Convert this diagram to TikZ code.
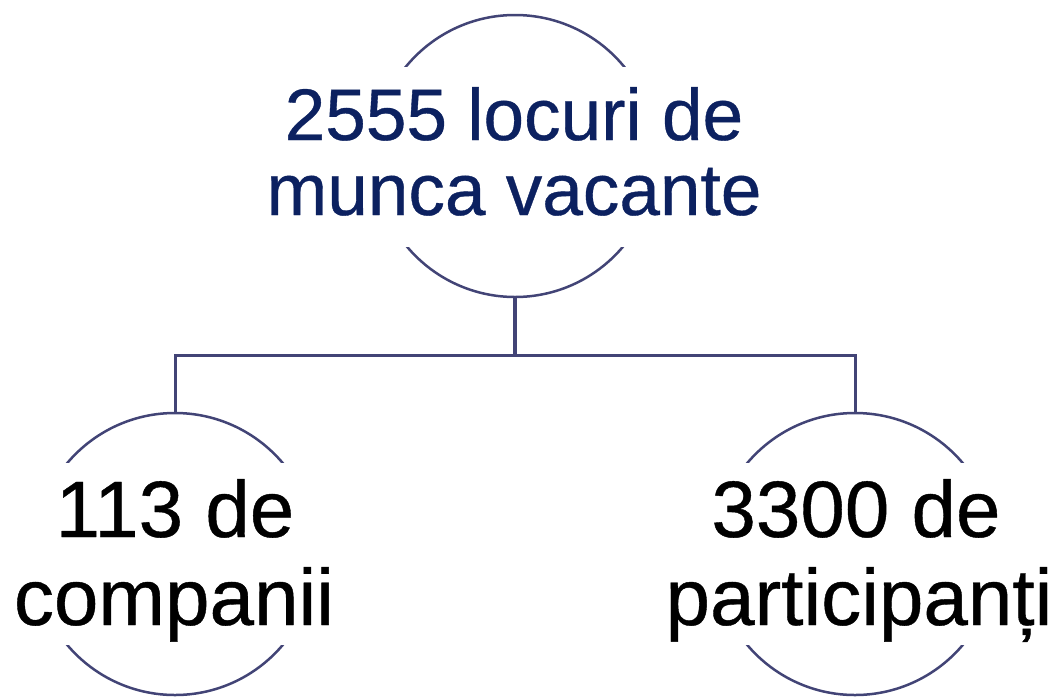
\documentclass[tikz,border=0pt]{standalone}
\usepackage{fontspec}
\setmainfont{Liberation Sans}[FakeBold=0.5]
\definecolor{linec}{RGB}{66,68,118}
\definecolor{navy}{RGB}{12,33,96}
\tikzset{
  ring/.style={circle, draw=linec, line width=2.5pt, minimum size=282pt, inner sep=0pt},
  band/.style={rectangle, fill=white, inner sep=0pt, minimum width=310pt},
  conn/.style={draw=linec, line width=3pt},
  toptxt/.style={anchor=base, inner sep=0pt, text=navy, font=\fontsize{73}{75}\selectfont},
  bottxt/.style={anchor=base, inner sep=0pt, text=black, font=\fontsize{80}{82}\selectfont}
}
\begin{document}
\begin{tikzpicture}[x=1pt,y=-1pt]
\useasboundingbox (0,0) rectangle (1054,697);
% circles
\node[ring] (top) at (515,156) {};
\node[ring] (left) at (175,554) {};
\node[ring] (right) at (855,554) {};
% connectors
\coordinate (bus) at (515,355);
\draw[conn, line width=4pt] (top.south) -- (bus);
\draw[conn] (left.north) |- (bus) -| (right.north);
% bands hiding the middle of the rings
\node[band, minimum width=500pt, minimum height=180pt] (topband) at (515,157) {};
\node[band, minimum height=182pt] (leftband) at (175,554) {};
\node[band, minimum height=182pt] (rightband) at (855,554) {};
% texts
\node[toptxt] (t1) at (514,140) {2555 locuri de};
\node[toptxt] (t2) at (514,215) {munca vacante};
\node[bottxt] (l1) at (175,537) {113 de};
\node[bottxt] (l2) at (174,625) {companii};
\node[bottxt] (r1) at (856,537) {3300 de};
\node[bottxt] (r2) at (859,625) {participanți};
\end{tikzpicture}
\end{document}
